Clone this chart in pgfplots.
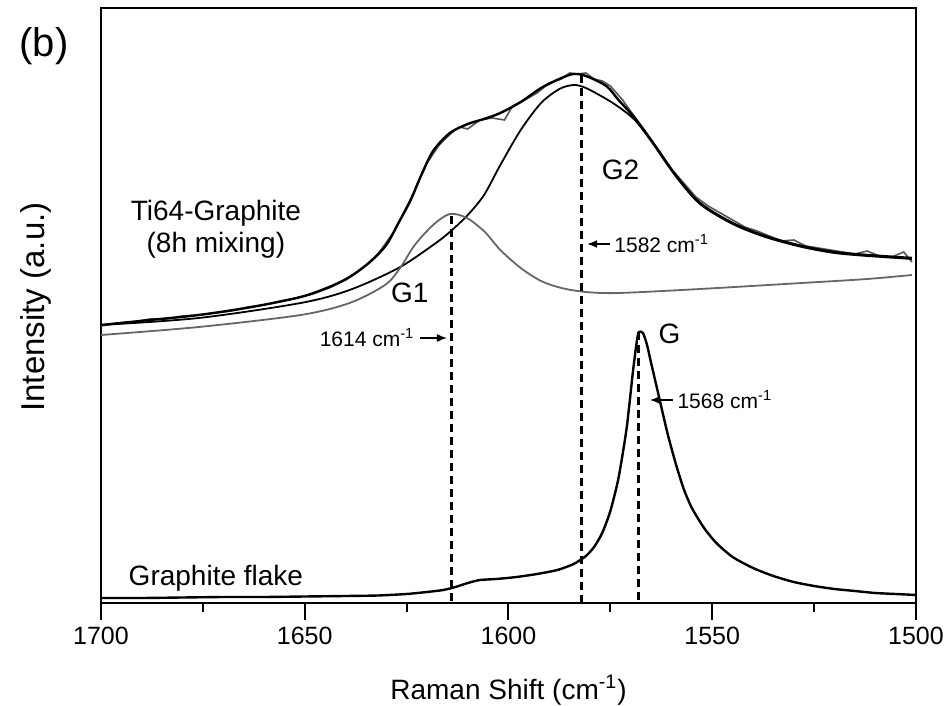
\documentclass[border=0pt]{standalone}
\usepackage{fontspec}
\setmainfont{Liberation Sans}
\usepackage{pgfplots}
\pgfplotsset{compat=1.18}
\usetikzlibrary{arrows.meta}
\definecolor{fitgray}{HTML}{666666}
\definecolor{datagray}{HTML}{555555}
\begin{document}
\begin{tikzpicture}
\begin{axis}[name=ax, width=407.5pt, height=297.5pt, scale only axis,
 xmin=1500, xmax=1700, ymin=0, ymax=595, x dir=reverse,
 xtick={1500,1550,1600,1650,1700}, minor x tick num=1, xtick pos=bottom, tick align=outside,
 ytick=\empty, major tick length=8.5pt, minor tick length=4.5pt,
 axis line style={line width=1pt}, every tick/.style={line width=1pt, black},
 ticklabel style={font=\fontsize{12.5}{14}\selectfont},
 /pgf/number format/assume math mode=true,
 /pgf/number format/1000 sep={},
 clip=false]
% Graphite flake
\addplot[black, line width=1.2pt, smooth, tension=0.4] coordinates {
(1700,5)(1690,5)(1680,5.5)(1670,6)(1660,6)(1650,6.5)(1640,7)(1632,7.5)(1625,9)(1620,11)
(1616,13)(1613,16)(1610,20)(1607,23)(1603,24)(1598,26)(1593,29)(1588,33)(1584,39)(1581,47)
(1579,56)(1577,70)(1575,92)(1573,125)(1571,175)(1569.5,230)(1568.5,262)(1568,271)(1567,270)
(1566,258)(1565,240)(1563,205)(1561,170)(1559,140)(1557,114)(1555,95)(1552,75)(1549,60)
(1545,46)(1540,35)(1535,27)(1530,21)(1525,17)(1520,14)(1515,12)(1510,10)(1505,9)(1500,8)};
% Ti64 raw data
\addplot[datagray, line width=0.8pt] coordinates {
(1700,277)(1696,280)(1692,281)(1688,284)(1684,284)(1680,287)(1676,288)(1672,290)(1668,292)
(1664,296)(1660,298)(1656,302)(1652,305)(1648,309)(1644,315)(1640,323)(1636,334)(1632,349)
(1628,372)(1624,404)(1620,440)(1617,458)(1614,470)(1612,476)(1610,474)(1607,483)(1604,485)
(1601,483)(1599,497)(1596,503)(1593,510)(1590,520)(1587,524)(1585,530)(1583,529)(1581,530)
(1579,524)(1577,522)(1575,517)(1572,503)(1569,486)(1566,468)(1563,452)(1560,434)(1557,420)
(1554,406)(1551,397)(1548,390)(1545,383)(1542,376)(1539,372)(1536,367)(1533,362)(1530,363)
(1527,357)(1524,355)(1521,353)(1518,351)(1515,349)(1512,352)(1509,347)(1506,346)(1503,351)(1501,341)};
% total fit
\addplot[black, line width=1.2pt, smooth, tension=0.5] coordinates {
(1700,278)(1688,283)(1676,288)(1663,296)(1651,306)(1644,316)(1639,326)(1634,341)(1630,358)
(1627,380)(1624,403)(1621.5,427)(1618.5,452)(1614.4,470)(1610,479)(1606,484)(1602,490)(1597,501)
(1592,515)(1587,525)(1584,529)(1581,527)(1576,517)(1573,503)(1569,485)(1565,463)(1559,428)
(1553,400)(1545,380)(1537,367)(1528,357)(1520,351)(1512,348)(1501,345)};
% G2
\addplot[black, line width=0.9pt, smooth, tension=0.5] coordinates {
(1700,278)(1676,285)(1651,300)(1639,313)(1627,335)(1618.5,358)(1614.4,371)(1610,388)(1606,408)
(1602,438)(1597,473)(1592,500)(1587.5,514)(1584,518)(1581,515)(1576,504)(1572.6,495)(1569,483)
(1565,462)(1559,427)(1553,399)(1545,379)(1537,366)(1528,356)(1520,350)(1512,347)(1501,344)};
% G1
\addplot[fitgray, line width=0.9pt, smooth, tension=0.5] coordinates {
(1700,268)(1676,276)(1651,288)(1639,300)(1630.3,318)(1626.6,335)(1623,358)(1618.5,378)
(1614.4,389)(1610.2,385)(1605.8,371)(1602,353)(1597,335)(1592,322)(1587,315)(1581,311)
(1573,310)(1553,314)(1528,320)(1512,324)(1501,328)};
% peak position markers
\addplot[black, line width=1.5pt, dash pattern=on 4pt off 2.5pt] coordinates {(1614,387)(1614,0)};
\addplot[black, line width=1.5pt, dash pattern=on 4pt off 2.5pt] coordinates {(1582,528)(1582,0)};
\addplot[black, line width=1.5pt, dash pattern=on 4pt off 2.5pt] coordinates {(1568,271)(1568,0)};
% arrows
\draw[-{Latex[length=5pt,width=4pt]}, line width=0.7pt] (axis cs:1621.7,265) -- (axis cs:1615.1,265);
\draw[-{Latex[length=5pt,width=4pt]}, line width=0.7pt] (axis cs:1575.1,359) -- (axis cs:1580.7,359);
\draw[-{Latex[length=5pt,width=4pt]}, line width=0.7pt] (axis cs:1559.6,203) -- (axis cs:1565.3,203);
% annotations
\node[anchor=east, inner sep=1pt, font=\fontsize{10.5}{12}\selectfont] at (axis cs:1622.5,265) {1614 cm\textsuperscript{-1}};
\node[anchor=west, inner sep=1pt, font=\fontsize{10.5}{12}\selectfont] at (axis cs:1574.6,359) {1582 cm\textsuperscript{-1}};
\node[anchor=west, inner sep=1pt, font=\fontsize{10.5}{12}\selectfont] at (axis cs:1559.1,203) {1568 cm\textsuperscript{-1}};
\node[font=\fontsize{14}{16}\selectfont] at (axis cs:1572.5,433) {G2};
\node[font=\fontsize{14}{16}\selectfont] at (axis cs:1624.2,310) {G1};
\node[font=\fontsize{14}{16}\selectfont] at (axis cs:1560.5,269) {G};
\node[font=\fontsize{14}{16}\selectfont] at (axis cs:1671.8,390) {Ti64-Graphite};
\node[font=\fontsize{14}{16}\selectfont] at (axis cs:1671.8,358) {(8h mixing)};
\node[font=\fontsize{14}{16}\selectfont] at (axis cs:1671.8,25) {Graphite flake};
\node[font=\fontsize{20}{23}\selectfont] at (axis cs:1714,557) {(b)};
\node[rotate=90, font=\fontsize{16.5}{18}\selectfont] at (axis cs:1716,296) {Intensity (a.u.)};
\node[font=\fontsize{14}{16}\selectfont] at (axis cs:1600,-87) {Raman Shift (cm\textsuperscript{-1})};
\end{axis}
\pgfresetboundingbox
\path ([shift={(-50.5pt,-51.5pt)}]ax.south west) rectangle ([shift={(15.5pt,4pt)}]ax.north east);
\end{tikzpicture}
\end{document}
